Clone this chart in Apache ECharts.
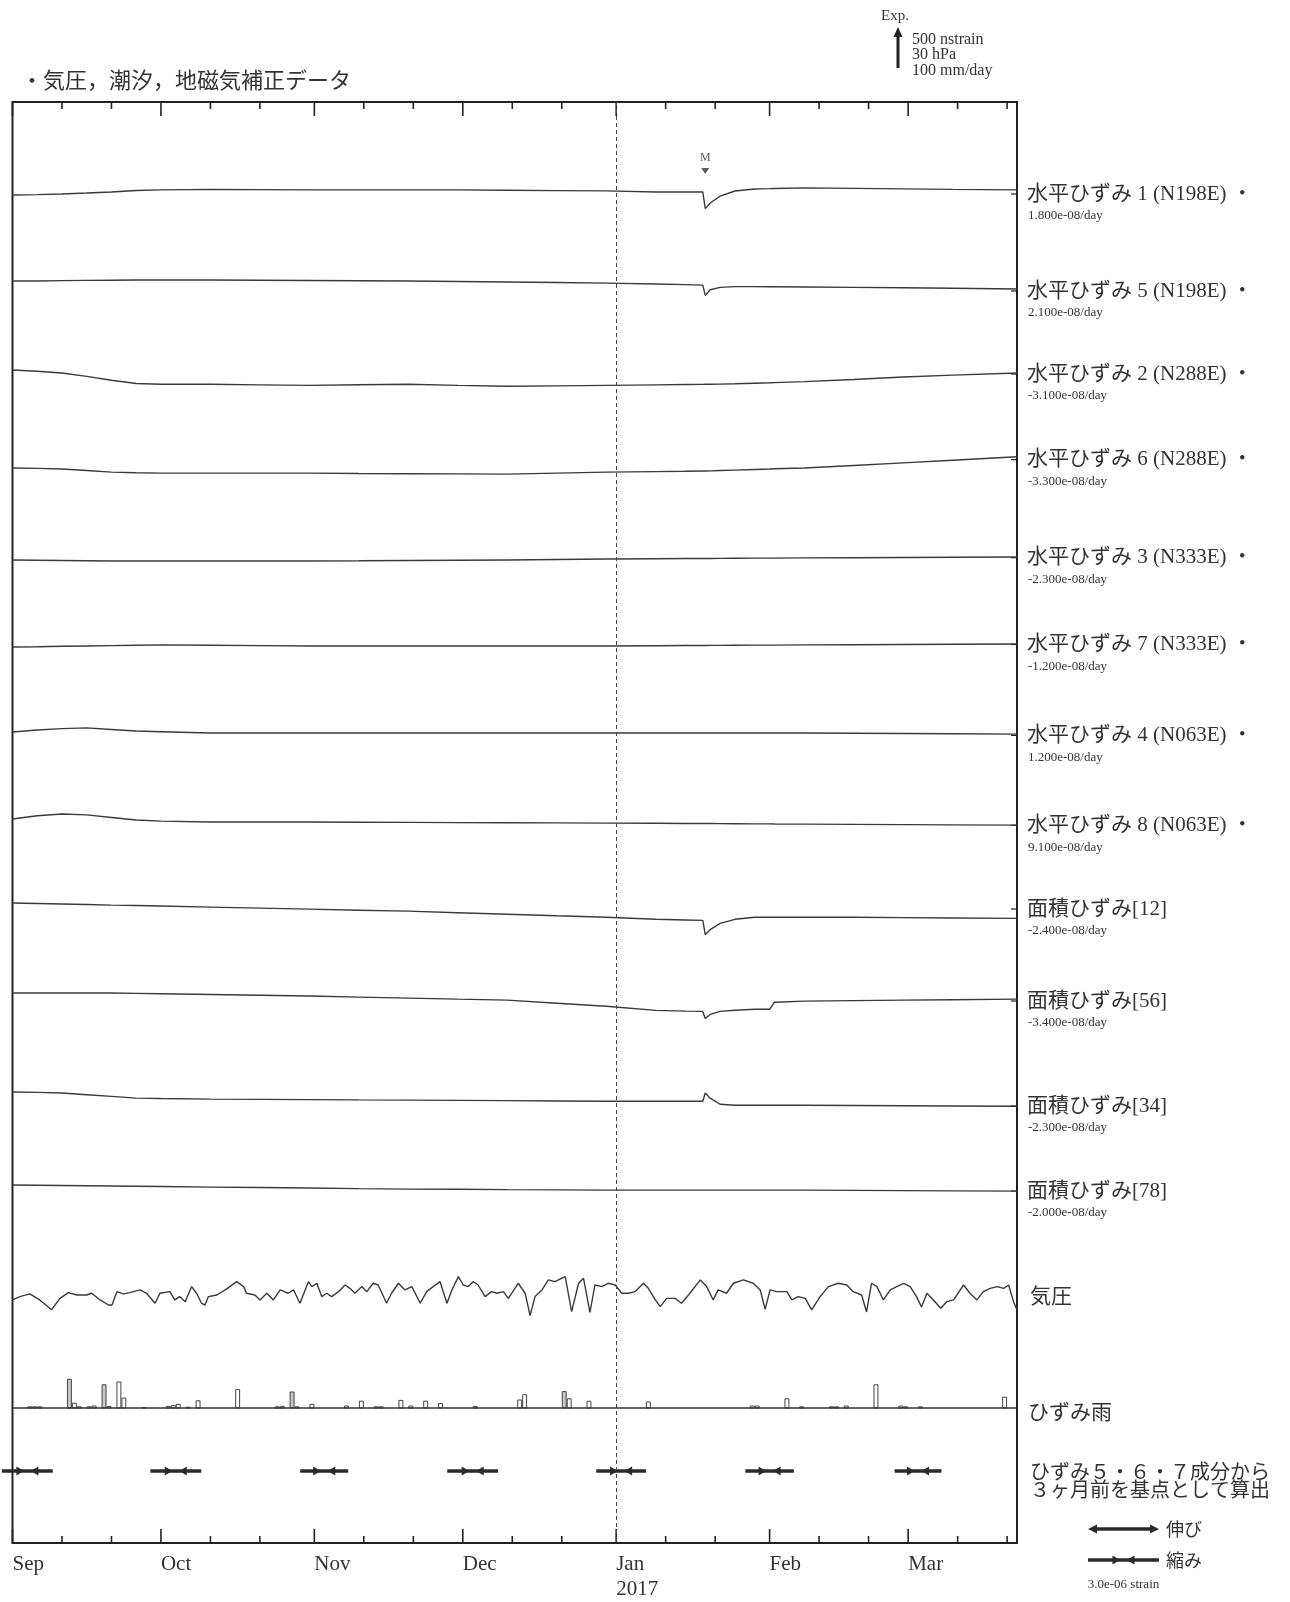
<!DOCTYPE html>
<html><head><meta charset="utf-8">
<script src="https://cdn.jsdelivr.net/npm/echarts@6/dist/echarts.min.js"></script>
<style>html,body{margin:0;padding:0;background:#fff}#c{width:1290px;height:1602px}</style>
</head><body><div id="c"></div>
<script>
// ---------------- data ----------------
// x axis: days since 2016-09-01
const monthDays   = [0, 30, 61, 91, 122, 153, 181];
const monthLabels = ['Sep', 'Oct', 'Nov', 'Dec', 'Jan\n2017', 'Feb', 'Mar'];
const minorDays   = [10, 20, 40, 50, 71, 81, 101, 111, 132, 142, 163, 173, 191, 201];
const dayMax = 203;

// strain traces (nstrain, relative to start, positive = extension)
const sampleDays = [0,5,10,15,20,25,30,40,50,60,70,80,90,100,110,120,130,136,139.5,140,141,143,146,150,153,154,160,170,180,190,203];
const strainH1 = [0,5,13,25,38,57,64,70,67,64,64,64,64,60,55,51,38,38,38,-170,-100,-15,50,75,80,82,89,83,77,70,64];
const strainH5 = [0,0,5,8,10,12,13,13,10,6,3,0,-6,-13,-19,-26,-38,-45,-51,-180,-110,-80,-70,-70,-72,-72,-75,-80,-85,-90,-100];
const strainH2 = [0,-15,-38,-80,-128,-168,-179,-179,-186,-192,-185,-179,-192,-204,-198,-192,-186,-182,-180,-179,-178,-176,-172,-165,-160,-158,-145,-118,-87,-64,-38];
const strainH6 = [0,-5,-13,-32,-51,-60,-64,-64,-64,-64,-68,-71,-74,-77,-64,-51,-45,-41,-38,-38,-36,-32,-26,-19,-13,-10,0,32,64,97,140];
const strainH3 = [0,-3,-6,-10,-13,-13,-13,-13,-13,-13,-10,-6,-3,0,6,13,16,18,19,19,19,20,21,23,24,24,26,29,32,35,38];
const strainH7 = [0,4,9,13,17,22,26,22,17,13,13,13,13,13,13,13,16,18,19,19,20,20,22,23,24,24,26,29,32,35,38];
const strainH4 = [0,25,42,51,32,13,4,-13,-13,-13,-13,-13,-13,-13,-13,-13,-13,-13,-13,-13,-13,-13,-13,-13,-13,-13,-13,-16,-19,-22,-26];
const strainH8 = [0,40,62,51,19,-13,-26,-38,-38,-38,-40,-42,-45,-47,-49,-51,-54,-56,-57,-57,-57,-58,-59,-61,-61,-62,-64,-67,-70,-73,-77];
const areaA12  = [0,-6,-13,-19,-26,-32,-38,-51,-64,-77,-90,-102,-121,-140,-160,-179,-204,-212,-217,-396,-332,-255,-204,-179,-179,-179,-179,-179,-183,-187,-192];
const areaA56  = [0,0,0,0,0,-5,-10,-19,-29,-38,-51,-64,-77,-89,-128,-166,-217,-226,-230,-319,-268,-230,-215,-204,-204,-115,-102,-95,-89,-84,-77];
const areaA34  = [0,-5,-13,-34,-55,-77,-82,-89,-92,-95,-99,-102,-105,-108,-112,-115,-115,-115,-115,-13,-77,-153,-166,-166,-166,-166,-166,-169,-172,-175,-179];
const areaA78  = [0,-3,-6,-10,-13,-16,-19,-26,-32,-38,-45,-51,-54,-58,-61,-64,-64,-64,-64,-64,-64,-64,-64,-64,-64,-64,-64,-67,-70,-73,-77];

const traceNames = ['水平ひずみ 1 (N198E) ・','水平ひずみ 5 (N198E) ・','水平ひずみ 2 (N288E) ・','水平ひずみ 6 (N288E) ・',
  '水平ひずみ 3 (N333E) ・','水平ひずみ 7 (N333E) ・','水平ひずみ 4 (N063E) ・','水平ひずみ 8 (N063E) ・',
  '面積ひずみ[12]','面積ひずみ[56]','面積ひずみ[34]','面積ひずみ[78]'];
const traceRates = ['1.800e-08/day','2.100e-08/day','-3.100e-08/day','-3.300e-08/day','-2.300e-08/day','-1.200e-08/day',
  '1.200e-08/day','9.100e-08/day','-2.400e-08/day','-3.400e-08/day','-2.300e-08/day','-2.000e-08/day'];

// atmospheric pressure: [day, hPa]
const pressure = [
  [0,1009.3],[1.5,1011.8],[3.5,1013.8],[5.5,1009.3],[7.9,1002],[9.6,1010.5],[11.3,1014.8],[13,1013],[15,1013],[16,1014.3],
  [17.7,1009.3],[19.4,1005.5],[20.1,1005.5],[21.1,1015.5],[22.4,1013.8],[23.7,1014.8],[25.8,1016.8],[27.1,1014.3],[28.8,1006.8],[29.8,1014.3],
  [31.8,1015.5],[32.8,1009.3],[33.8,1011.8],[34.9,1008],[36.2,1019.3],[37.2,1014.3],[38.2,1006.8],[38.9,1005.5],[39.6,1011.8],[41.3,1013],
  [43,1016.8],[45.3,1023],[46.7,1019.3],[47.3,1014.3],[49,1013],[50,1009.3],[51.4,1014.3],[52.7,1009.3],[54.1,1016.8],[55.7,1014.3],
  [56.8,1016.8],[58.1,1006.8],[59.8,1023],[60.5,1019.3],[61.5,1021.8],[62.5,1011.8],[63.5,1014.3],[64.5,1011.8],[65.9,1015.5],[67.2,1020.5],
  [68.2,1018],[69.2,1014.3],[70.6,1019.3],[71.6,1015.5],[72.9,1021.8],[73.9,1020.5],[75.6,1006.8],[76.6,1014.3],[78,1021.8],[79.3,1016.8],
  [80.7,1019.3],[82.4,1006.8],[83.7,1015.5],[85,1019.3],[86.4,1023],[87.8,1006.8],[88.8,1016.8],[90.1,1026.8],[91.1,1020.5],[92.1,1019.3],
  [93.1,1023],[94.1,1020.5],[95.5,1011.8],[96.8,1015.5],[97.9,1014.3],[99.2,1015.5],[100.2,1010.5],[102.2,1021.8],[103.6,1014.3],[104.6,997.5],
  [105.6,1011.8],[107,1016.8],[108.3,1024.3],[109.6,1023],[111.7,1026.8],[113,1000.5],[114.4,1021.8],[115.4,1025.5],[116.7,1000],[117.7,1020.5],
  [119.1,1019.3],[120.4,1021.8],[121.8,1020.5],[123.1,1014.3],[124.5,1014.3],[125.8,1015.5],[127.5,1021.8],[128.5,1018],[129.9,1009.3],[130.9,1004.3],
  [132.2,1010.5],[133.9,1010.5],[135.2,1006.8],[136.9,1014.3],[139,1024.3],[140.3,1019.3],[141.6,1009.3],[142.6,1016.8],[144.3,1014.3],[145.7,1021.8],
  [147.7,1024.3],[149.7,1021.8],[151.1,1016.8],[152.1,1002.3],[153.1,1016.8],[154.4,1015.5],[156.5,1015.5],[157.5,1009.3],[158.8,1011.8],[160.2,1010.5],
  [161.5,1001.8],[163.2,1011.8],[164.9,1019.3],[166.9,1021.8],[168.6,1020.5],[169.9,1015.5],[171.6,1013],[172.6,1000.3],[173.6,1021.8],[174.7,1019.3],
  [176,1009.3],[177.4,1016.8],[178.7,1019.3],[180.1,1021.8],[181.4,1019.3],[182.7,1011.8],[183.7,1004],[184.8,1014.3],[186.1,1009.3],[187.6,1003],
  [188.8,1008],[190.2,1009.3],[192.2,1020.5],[193.5,1014.3],[194.9,1009.3],[196.2,1015.5],[197.6,1018],[199,1019.3],[200.3,1018],[201.3,1020.5],
  [202.3,1008],[203,1002]
];

// strain rain: [day, mm/day]
const rain = [
  [3,3],[4,3],[5,3],[11,72],[12,12],[13,3],[15,3],[16,5],[18,58],[19,4],[21,65],[22,25],[26,1],[31,4],[32,6],[33,9],[35,2],[37,18],
  [45,46],[53,3],[54,4],[56,40],[57,3],[60,9],[67,5],[70,17],[73,3],[74,3],[78,19],[80,5],[83,17],[86,11],[93,4],[102,20],[103,33],
  [111,41],[112,23],[116,17],[128,15],[149,5],[150,5],[156,23],[159,3],[165,3],[166,3],[168,5],[174,58],[179,5],[180,3],[183,3],[200,27]
];

// monthly principal strain (compression), 1e-6 strain
const arrowDays   = [3, 33, 63, 93, 123, 153, 183];
const arrowStrain = [2.15, 2.15, 2.03, 2.15, 2.1, 2.05, 1.98];

const eventDay = 140;   // "M"

// ---------------- layout / style ----------------
const GRID_TOP = 102, GRID_H = 1441;
const PX_PER_NSTRAIN = 40 / 500, PX_PER_HPA = 40 / 30, PX_PER_MM = 40 / 100, P_REF = 1013;
const traceBase = [93, 179, 268, 366, 458, 545, 630, 717, 801, 891, 990, 1083];
const PRESS_BASE = 1193, RAIN_BASE = 1306, ARROW_Y = 1369, M_Y = 69;
const LEGEND_ARROW_PX = 71, LEGEND_STRAIN = 3.0;
const labelY = [194, 291, 374, 459.6, 557.7, 644.5, 735.4, 825.3, 909, 1001, 1106, 1191];
const shadedRain = [11, 18, 56, 111];
const INK = '#3a3a3a';
const SERIF = '"Liberation Serif","DejaVu Serif",serif';
const JP = '"Liberation Serif","Noto Sans CJK JP",sans-serif';

const traces = [strainH1, strainH5, strainH2, strainH6, strainH3, strainH7, strainH4, strainH8, areaA12, areaA56, areaA34, areaA78];

const series = [];
traces.forEach((vals, k) => {
  series.push({
    type: 'line', symbol: 'none', silent: true,
    data: sampleDays.map((d, i) => [d, traceBase[k] - vals[i] * PX_PER_NSTRAIN]),
    lineStyle: { color: INK, width: 1.4 }
  });
});
series.push({
  type: 'line', symbol: 'none', silent: true,
  data: pressure.map(p => [p[0], PRESS_BASE - (p[1] - P_REF) * PX_PER_HPA]),
  lineStyle: { color: INK, width: 1.4 },
  markLine: {
    silent: true, symbol: 'none', label: { show: false },
    data: [
      { xAxis: 122, lineStyle: { color: '#444', type: [4, 3], width: 1 } },
      { yAxis: RAIN_BASE, lineStyle: { color: '#333', type: 'solid', width: 1.5 } }
    ]
  }
});
// rain bars
series.push({
  type: 'custom', silent: true, clip: false,
  data: rain,
  renderItem(params, api) {
    const d = api.value(0), mm = api.value(1);
    const p0 = api.coord([d, RAIN_BASE]);
    const p1 = api.coord([d + 1, RAIN_BASE - mm * PX_PER_MM]);
    return {
      type: 'rect',
      shape: { x: p0[0] + 0.5, y: p1[1], width: Math.max(1, p1[0] - p0[0] - 1), height: p0[1] - p1[1] },
      style: { fill: shadedRain.indexOf(d) >= 0 ? '#c8c8c8' : '#fff', stroke: '#444', lineWidth: 1 }
    };
  }
});
// principal strain arrows
series.push({
  type: 'custom', silent: true, clip: false,
  data: arrowDays.map((d, i) => [d, arrowStrain[i]]),
  renderItem(params, api) {
    const c = api.coord([api.value(0), ARROW_Y]);
    const half = api.value(1) / LEGEND_STRAIN * LEGEND_ARROW_PX / 2;
    const x = c[0], y = c[1];
    return { type: 'group', children: [
      { type: 'line', shape: { x1: x - half, y1: y, x2: x + half, y2: y }, style: { stroke: '#2a2a2a', lineWidth: 3.5 } },
      { type: 'polygon', shape: { points: [[x - 11, y - 4.5], [x - 3.5, y], [x - 11, y + 4.5]] }, style: { fill: '#2a2a2a' } },
      { type: 'polygon', shape: { points: [[x + 11, y - 4.5], [x + 3.5, y], [x + 11, y + 4.5]] }, style: { fill: '#2a2a2a' } }
    ] };
  }
});
// axis ticks (inside, top and bottom): major = month starts, minor = 11th / 21st
series.push({
  type: 'custom', silent: true, clip: false,
  data: monthDays.map(d => [d, 1]).concat(minorDays.map(d => [d, 0])),
  renderItem(params, api) {
    const top = api.coord([api.value(0), 0]);
    const bot = api.coord([api.value(0), GRID_H]);
    const len = api.value(1) ? 14 : 7;
    const st = { stroke: '#222', lineWidth: 1.6 };
    return { type: 'group', children: [
      { type: 'line', shape: { x1: top[0], y1: top[1], x2: top[0], y2: top[1] + len }, style: st },
      { type: 'line', shape: { x1: bot[0], y1: bot[1], x2: bot[0], y2: bot[1] - len }, style: st }
    ] };
  }
});
// right-edge ticks at trace levels
series.push({
  type: 'custom', silent: true, clip: false,
  data: labelY.map(v => [dayMax, v - GRID_TOP]),
  renderItem(params, api) {
    const p = api.coord([api.value(0), api.value(1)]);
    return { type: 'line', shape: { x1: p[0], y1: p[1], x2: p[0] - 6, y2: p[1] }, style: { stroke: '#222', lineWidth: 1.2 } };
  }
});
series.push({
  type: 'scatter', silent: true,
  data: [[eventDay, M_Y]],
  symbol: 'triangle', symbolRotate: 180, symbolSize: [8, 6],
  itemStyle: { color: '#333' },
  label: { show: true, position: 'top', distance: 4, formatter: 'M', fontFamily: SERIF, fontSize: 12, color: '#333' }
});

// ---------- graphic texts ----------
const g = [];
function txt(x, y, text, font, align) {
  g.push({ type: 'text', x, y, silent: true,
    style: { text, font, fill: '#333', align: align || 'left', verticalAlign: 'middle' } });
}
txt(21, 80, '・気圧，潮汐，地磁気補正データ', '22px "Noto Sans CJK JP"');
txt(881, 16, 'Exp.', '15px ' + SERIF);
txt(912, 40, '500 nstrain', '16px ' + SERIF);
txt(912, 55, '30 hPa', '16px ' + SERIF);
txt(912, 71, '100 mm/day', '16px ' + SERIF);
g.push({ type: 'line', silent: true, shape: { x1: 898, y1: 68, x2: 898, y2: 34 }, style: { stroke: '#222', lineWidth: 3 } });
g.push({ type: 'polygon', silent: true, shape: { points: [[893.5, 37], [898, 27], [902.5, 37]] }, style: { fill: '#222' } });

traceNames.forEach((n, k) => {
  txt(1027, labelY[k], n, '21px ' + JP);
  txt(1028, labelY[k] + 22, traceRates[k], '13px ' + SERIF);
});
txt(1030, 1295, '気圧', '21px "Noto Sans CJK JP"');
txt(1028, 1411, 'ひずみ雨', '21px "Noto Sans CJK JP"');
txt(1030, 1471, 'ひずみ５・６・７成分から', '20px "Noto Sans CJK JP"');
txt(1030, 1489, '３ヶ月前を基点として算出', '20px "Noto Sans CJK JP"');
// legend
const L0 = 1088, L1 = L0 + LEGEND_ARROW_PX, LM = (L0 + L1) / 2;
g.push({ type: 'line', silent: true, shape: { x1: L0 + 4, y1: 1529, x2: L1 - 4, y2: 1529 }, style: { stroke: '#2a2a2a', lineWidth: 3.5 } });
g.push({ type: 'polygon', silent: true, shape: { points: [[L0, 1529], [L0 + 9, 1524.5], [L0 + 9, 1533.5]] }, style: { fill: '#2a2a2a' } });
g.push({ type: 'polygon', silent: true, shape: { points: [[L1, 1529], [L1 - 9, 1524.5], [L1 - 9, 1533.5]] }, style: { fill: '#2a2a2a' } });
txt(1166, 1529, '伸び', '18px "Noto Sans CJK JP"');
g.push({ type: 'line', silent: true, shape: { x1: L0, y1: 1560, x2: L1, y2: 1560 }, style: { stroke: '#2a2a2a', lineWidth: 3.5 } });
g.push({ type: 'polygon', silent: true, shape: { points: [[LM - 11, 1555.5], [LM - 3.5, 1560], [LM - 11, 1564.5]] }, style: { fill: '#2a2a2a' } });
g.push({ type: 'polygon', silent: true, shape: { points: [[LM + 11, 1555.5], [LM + 3.5, 1560], [LM + 11, 1564.5]] }, style: { fill: '#2a2a2a' } });
txt(1166, 1560, '縮み', '18px "Noto Sans CJK JP"');
txt(LM, 1585, LEGEND_STRAIN.toFixed(1) + 'e-06 strain', '13px ' + SERIF, 'center');

const option = {
  animation: false,
  backgroundColor: '#fff',
  grid: { left: 12.5, right: 273, top: GRID_TOP, height: GRID_H, show: true, borderColor: '#222', borderWidth: 2, backgroundColor: 'transparent' },
  xAxis: {
    type: 'value', min: 0, max: dayMax, position: 'bottom',
    axisLine: { show: false }, splitLine: { show: false }, axisTick: { show: false },
    axisLabel: {
      show: true, customValues: monthDays, margin: 9, align: 'left',
      formatter: v => monthLabels[monthDays.indexOf(v)],
      fontFamily: SERIF, fontSize: 21, color: '#333', lineHeight: 25
    }
  },
  yAxis: { type: 'value', min: 0, max: GRID_H, inverse: true, show: false },
  series,
  graphic: g
};
const chart = echarts.init(document.getElementById('c'), null, { renderer: 'canvas' });
chart.setOption(option);
</script>
</body></html>
